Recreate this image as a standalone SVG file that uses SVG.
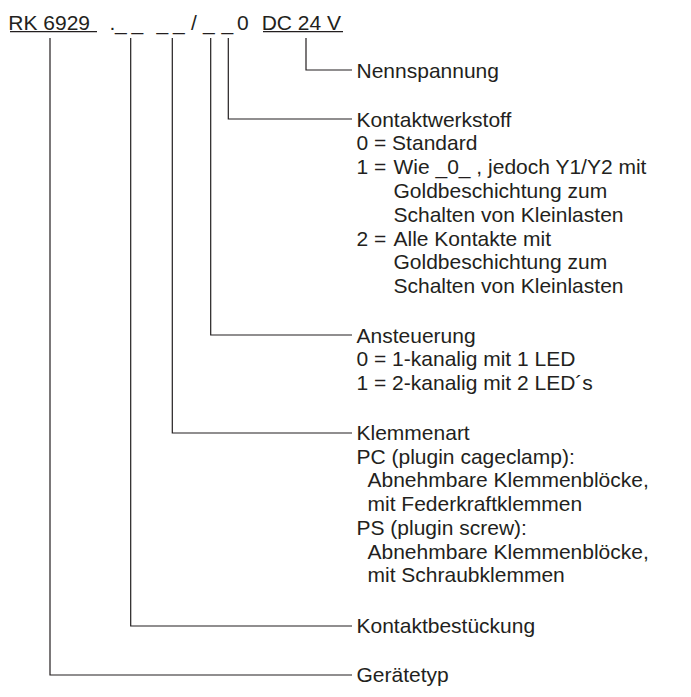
<svg xmlns="http://www.w3.org/2000/svg" width="691" height="697" viewBox="0 0 691 697">
<style>
text{font-family:"Liberation Sans",Arial,Helvetica,sans-serif;font-size:21px;fill:#231f20}
.c{fill:none;stroke:#231f20;stroke-width:1.2}
</style>
<rect width="691" height="697" fill="#fff"/>
<g id="code">
<text y="29.5"><tspan x="8.3">RK 6929</tspan><tspan x="109.5">.</tspan><tspan x="115">_</tspan><tspan x="131.5">_</tspan><tspan x="156.5">_</tspan><tspan x="173">_</tspan><tspan x="191">/</tspan><tspan x="203">_</tspan><tspan x="221.5">_</tspan><tspan x="237">0</tspan><tspan x="261.7">DC 24 V</tspan></text>
<line class="c" x1="10" y1="31.7" x2="97" y2="31.7"/>
<line class="c" x1="263" y1="31.7" x2="343" y2="31.7"/>
</g>
<g id="connectors">
<path class="c" d="M306 38V70H352"/>
<path class="c" d="M228.3 38V119H352"/>
<path class="c" d="M210.7 38V335H352"/>
<path class="c" d="M172.3 38V433H352"/>
<path class="c" d="M130.7 38V626H352"/>
<path class="c" d="M50 38V675H352"/>
</g>
<g id="nennspannung">
<text x="356.5" y="77.5">Nennspannung</text>
</g>
<g id="kontaktwerkstoff">
<text x="356.5" y="126.5">Kontaktwerkstoff</text>
<text x="356.5" y="150.3">0 = Standard</text>
<text y="174.1"><tspan x="356.5">1 =</tspan><tspan x="393.5">Wie _0_ , jedoch Y1/Y2 mit</tspan></text>
<text x="393.5" y="197.9">Goldbeschichtung zum</text>
<text x="393.5" y="221.7">Schalten von Kleinlasten</text>
<text y="245.5"><tspan x="356.5">2 =</tspan><tspan x="393.5">Alle Kontakte mit</tspan></text>
<text x="393.5" y="269.3">Goldbeschichtung zum</text>
<text x="393.5" y="293.1">Schalten von Kleinlasten</text>
</g>
<g id="ansteuerung">
<text x="356.5" y="342.5">Ansteuerung</text>
<text x="356.5" y="366.2">0 = 1-kanalig mit 1 LED</text>
<text x="356.5" y="389.9">1 = 2-kanalig mit 2 LED´s</text>
</g>
<g id="klemmenart">
<text x="356.5" y="440">Klemmenart</text>
<text x="356.5" y="463.7">PC (plugin cageclamp):</text>
<text x="367.5" y="487.4">Abnehmbare Klemmenblöcke,</text>
<text x="367.5" y="511.1">mit Federkraftklemmen</text>
<text x="356.5" y="534.8">PS (plugin screw):</text>
<text x="367.5" y="558.5">Abnehmbare Klemmenblöcke,</text>
<text x="367.5" y="582.2">mit Schraubklemmen</text>
</g>
<g id="kontaktbestueckung">
<text x="356.5" y="633">Kontaktbestückung</text>
</g>
<g id="geraetetyp">
<text x="356.5" y="682">Gerätetyp</text>
</g>
</svg>
